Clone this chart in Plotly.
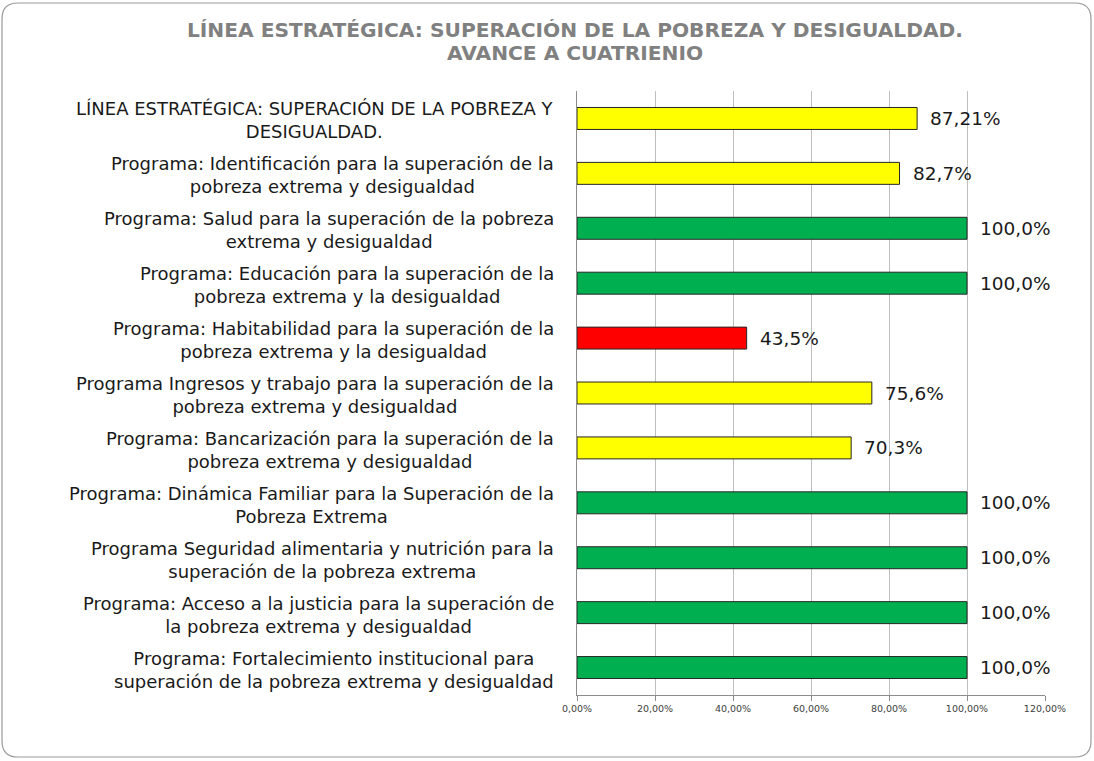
import plotly.graph_objects as go

categories = [
    "LÍNEA ESTRATÉGICA: SUPERACIÓN DE LA POBREZA Y<br>DESIGUALDAD.",
    "Programa: Identificación para la superación de la<br>pobreza extrema y desigualdad",
    "Programa: Salud para la superación de la pobreza<br>extrema y desigualdad",
    "Programa: Educación para la superación de la<br>pobreza extrema y la desigualdad",
    "Programa: Habitabilidad para la superación de la<br>pobreza extrema y la desigualdad",
    "Programa Ingresos y trabajo para la superación de la<br>pobreza extrema y desigualdad",
    "Programa: Bancarización para la superación de la<br>pobreza extrema y desigualdad",
    "Programa: Dinámica Familiar para la Superación de la<br>Pobreza Extrema",
    "Programa Seguridad alimentaria y nutrición para la<br>superación de la pobreza extrema",
    "Programa: Acceso a la justicia para la superación de<br>la pobreza extrema y desigualdad",
    "Programa: Fortalecimiento institucional para<br>superación de la pobreza extrema y desigualdad",
]
values = [87.21, 82.7, 100.0, 100.0, 43.5, 75.6, 70.3, 100.0, 100.0, 100.0, 100.0]
value_labels = ["87,21%", "82,7%", "100,0%", "100,0%", "43,5%", "75,6%", "70,3%",
                "100,0%", "100,0%", "100,0%", "100,0%"]
bar_colors = ["#FFFF00", "#FFFF00", "#00B050", "#00B050", "#FF0000", "#FFFF00",
              "#FFFF00", "#00B050", "#00B050", "#00B050", "#00B050"]
tick_vals = [0, 20, 40, 60, 80, 100, 120]
tick_text = ["0,00%", "20,00%", "40,00%", "60,00%", "80,00%", "100,00%", "120,00%"]
title_lines = ["LÍNEA ESTRATÉGICA: SUPERACIÓN DE LA POBREZA Y DESIGUALDAD.",
               "AVANCE A CUATRIENIO"]

W, H = 1094, 761
L, R, T, B = 577, 49, 91, 66
PW, PH = W - L - R, H - T - B

def px_x(px):
    return (px - L) / PW

def px_y(py):
    return (H - B - py) / PH

idx = list(range(len(categories)))

fig = go.Figure()
fig.add_trace(go.Bar(
    x=values, y=idx, orientation="h",
    marker=dict(color=bar_colors, line=dict(color="#262626", width=1)),
    width=0.4, hoverinfo="skip",
))

annotations = []
for i, (cat, v, lab) in enumerate(zip(categories, values, value_labels)):
    annotations.append(dict(
        x=0, xref="paper", y=i, yref="y", text=cat, showarrow=False,
        xanchor="right", yanchor="middle", align="center", xshift=-21, yshift=-2,
        font=dict(family="DejaVu Sans", size=18, color="#1a1a1a"),
    ))
    annotations.append(dict(
        x=v, xref="x", y=i, yref="y", text=lab, showarrow=False,
        xanchor="left", yanchor="middle", xshift=11,
        font=dict(family="DejaVu Sans", size=18.5, color="#1a1a1a"),
    ))

for line, ypx in zip(title_lines, [30, 53]):
    annotations.append(dict(
        x=px_x(575), xref="paper", y=px_y(ypx), yref="paper", text=line,
        showarrow=False, xanchor="center", yanchor="middle", height=22,
        font=dict(family="DejaVu Sans", size=20.2, color="#808080", weight="bold"),
    ))

# rounded outer frame
x0, y0, x1, y1, r = 2, 3, 1091, 757, 16
path = (
    f"M {px_x(x0 + r)},{px_y(y0)} L {px_x(x1 - r)},{px_y(y0)} "
    f"Q {px_x(x1)},{px_y(y0)} {px_x(x1)},{px_y(y0 + r)} "
    f"L {px_x(x1)},{px_y(y1 - r)} Q {px_x(x1)},{px_y(y1)} {px_x(x1 - r)},{px_y(y1)} "
    f"L {px_x(x0 + r)},{px_y(y1)} Q {px_x(x0)},{px_y(y1)} {px_x(x0)},{px_y(y1 - r)} "
    f"L {px_x(x0)},{px_y(y0 + r)} Q {px_x(x0)},{px_y(y0)} {px_x(x0 + r)},{px_y(y0)} Z"
)

fig.update_layout(
    width=W, height=H,
    margin=dict(l=L, r=R, t=T, b=B, autoexpand=False),
    paper_bgcolor="white", plot_bgcolor="white",
    showlegend=False,
    bargap=0.6,
    xaxis=dict(
        range=[0, 120], tickvals=tick_vals, ticktext=tick_text,
        showgrid=True, gridcolor="#BFBFBF", gridwidth=1,
        showline=True, linecolor="#8C8C8C", linewidth=1,
        ticks="outside", ticklen=5, tickcolor="#8C8C8C",
        tickfont=dict(family="DejaVu Sans", size=9.5, color="#404040"),
        zeroline=False, fixedrange=True,
    ),
    yaxis=dict(
        range=[10.5, -0.5], showticklabels=False, showgrid=False,
        showline=True, linecolor="#8C8C8C", linewidth=1, ticks="",
        zeroline=False, fixedrange=True,
    ),
    annotations=annotations,
    shapes=[dict(type="path", path=path, xref="paper", yref="paper",
                 line=dict(color="#9A9A9A", width=1.2), layer="below")],
)

fig.write_html("out.html", config={"displayModeBar": False},
               post_script="document.body.style.margin='0px';")
